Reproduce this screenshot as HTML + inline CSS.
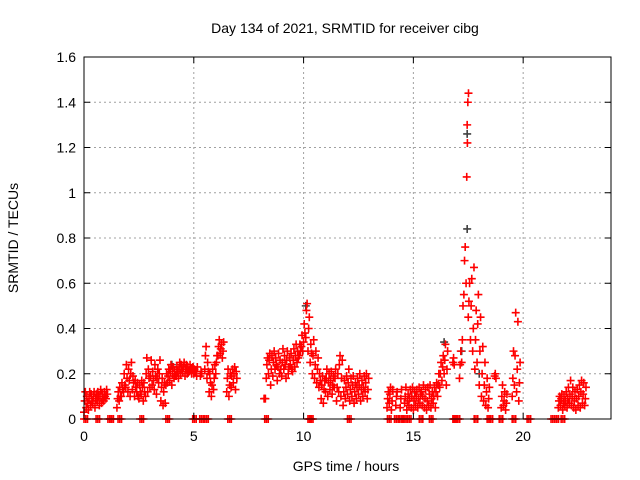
<!DOCTYPE html>
<html><head><meta charset="utf-8"><style>
html,body{margin:0;padding:0;background:#fff}
svg{display:block;font-family:"Liberation Sans",sans-serif}
</style></head><body>
<svg id="chart" width="640" height="480">
<rect width="640" height="480" fill="#fff"/>
<g id="grid"></g>
<g id="marks"></g>
<rect x="84" y="57" width="527" height="362" fill="none" stroke="#000" stroke-width="1"/>
<g id="axes"></g>
<text x="345" y="33" text-anchor="middle" font-size="14">Day 134 of 2021, SRMTID for receiver cibg</text>
<text x="346" y="471" text-anchor="middle" font-size="14">GPS time / hours</text>
<text transform="translate(18,238) rotate(-90)" text-anchor="middle" font-size="14">SRMTID / TECUs</text>
</svg>
<script>
const xTicks=[0,5,10,15,20];
const yTicks=[0,0.2,0.4,0.6,0.8,1,1.2,1.4,1.6];
const yTickLabels=["0","0.2","0.4","0.6","0.8","1","1.2","1.4","1.6"];
const times=[0.0,0.1,0.2,0.3,0.4,0.5,0.6,0.7,0.8,0.9,1.0,1.5,1.6,1.7,1.8,1.9,2.0,2.1,2.2,2.3,2.4,2.5,2.6,2.7,2.8,2.9,3.0,3.1,3.2,3.3,3.4,3.5,3.6,3.7,3.8,3.9,4.0,4.1,4.2,4.3,4.4,4.5,4.6,4.7,4.8,4.9,5.0,5.1,5.3,5.5,5.6,5.7,5.8,5.9,6.0,6.1,6.2,6.3,6.5,6.6,6.7,6.8,6.9,8.2,8.3,8.4,8.5,8.6,8.7,8.8,8.9,9.0,9.1,9.2,9.3,9.4,9.5,9.6,9.7,9.8,9.9,10.0,10.1,10.2,10.3,10.4,10.5,10.6,10.7,10.8,10.9,11.0,11.1,11.2,11.3,11.4,11.5,11.6,11.7,11.8,11.9,12.0,12.1,12.2,12.3,12.4,12.5,12.6,12.7,12.8,12.9,13.8,13.9,14.0,14.2,14.4,14.6,14.7,14.8,14.9,15.0,15.1,15.2,15.3,15.4,15.5,15.6,15.7,15.8,15.9,16.0,16.1,16.2,16.3,16.4,16.5,16.8,17.1,17.2,17.3,17.4,17.45,17.5,17.6,17.7,17.8,17.9,18.0,18.1,18.2,18.3,18.4,18.7,19.0,19.1,19.2,19.5,19.6,19.7,19.8,21.6,21.7,21.8,21.9,22.0,22.1,22.2,22.3,22.4,22.5,22.6,22.7,22.8];
const valuesLow=[.03,.05,.04,.06,.07,.05,.08,.06,.07,.08,.09,.05,.08,.10,.12,.14,.12,.10,.13,.10,.12,.09,.11,.08,.10,.12,.14,.15,.13,.11,.16,.08,.06,.07,.16,.17,.15,.18,.19,.18,.20,.21,.19,.20,.21,.20,.20,.21,.19,.22,.18,.12,.10,.13,.20,.28,.29,.27,.12,.10,.14,.16,.13,.09,.18,.20,.15,.19,.22,.17,.20,.19,.22,.18,.20,.24,.21,.23,.25,.28,.32,.34,.36,.30,.25,.20,.18,.16,.14,.09,.07,.12,.10,.13,.11,.14,.08,.12,.10,.06,.09,.11,.08,.10,.07,.09,.11,.08,.10,.12,.09,.05,.07,.04,.06,.05,.07,.04,.06,.05,.04,.06,.05,.07,.06,.05,.04,.06,.05,.07,.05,.10,.14,.17,.20,.15,.25,.18,.25,.55,.60,1.30,.45,.35,.30,.22,.25,.15,.10,.08,.06,.05,.19,.05,.06,.04,.10,.15,.12,.08,.05,.06,.04,.06,.05,.07,.06,.05,.04,.06,.05,.07,.06];
const valuesMid=[.08,.10,.09,.11,.10,.09,.12,.10,.11,.12,.13,.09,.14,.16,.20,.24,.22,.20,.19,.17,.16,.15,.17,.16,.20,.22,.19,.21,.24,.18,.20,.14,.12,.15,.19,.21,.20,.21,.23,.22,.24,.23,.22,.23,.24,.22,.22,.19,.21,.28,.25,.20,.15,.18,.25,.32,.31,.30,.18,.15,.19,.20,.21,.09,.24,.26,.22,.25,.27,.23,.26,.25,.28,.26,.23,.29,.26,.28,.30,.33,.37,.42,.48,.40,.33,.28,.24,.22,.20,.15,.13,.18,.16,.17,.15,.18,.14,.24,.18,.12,.14,.16,.13,.15,.12,.14,.15,.13,.14,.16,.13,.09,.11,.08,.10,.09,.10,.08,.09,.10,.08,.10,.09,.11,.10,.09,.08,.11,.09,.10,.12,.15,.20,.23,.26,.22,.27,.24,.35,.70,1.07,1.40,.52,.50,.40,.35,.42,.30,.20,.15,.12,.09,.20,.10,.08,.07,.18,.28,.22,.16,.08,.09,.07,.08,.09,.11,.10,.08,.09,.10,.12,.11,.09];
const valuesHigh=[.12,.07,.12,.08,.12,.11,.10,.13,.09,.10,.11,.12,.10,.13,.15,.18,.17,.25,.16,.14,.10,.12,.14,.12,.27,.18,.26,.17,.19,.22,.26,.18,.16,.20,.22,.24,.23,.19,.21,.25,.22,.25,.24,.21,.22,.23,.21,.23,.20,.32,.21,.16,.22,.24,.28,.35,.33,.34,.22,.20,.22,.23,.18,.09,.27,.29,.28,.30,.24,.29,.22,.31,.24,.30,.27,.22,.31,.33,.27,.30,.30,.38,.51,.45,.29,.35,.30,.27,.17,.19,.17,.22,.20,.21,.19,.22,.20,.28,.26,.17,.19,.22,.18,.19,.16,.18,.20,.17,.19,.20,.18,.12,.14,.13,.12,.13,.14,.11,.13,.14,.12,.13,.14,.12,.15,.13,.14,.15,.12,.14,.16,.20,.25,.28,.33,.30,.24,.30,.50,.76,1.22,1.44,.60,.62,.67,.48,.55,.45,.32,.25,.18,.14,.18,.15,.12,.11,.30,.47,.43,.25,.10,.11,.10,.12,.14,.17,.14,.12,.13,.15,.17,.16,.14];
const grayTimes=[17.45,17.45,17.2,16.4,4.0,10.1,18.0];
const grayValues=[1.26,.84,.30,.34,.24,.50,.20];
const zeroTimes=[0.0,0.55,1.09,1.18,1.55,2.55,3.73,4.95,5.27,5.5,6.55,8.23,10.2,10.27,12.0,13.82,14.14,14.36,14.5,14.73,15.27,15.73,16.8,16.86,16.95,17.77,18.36,18.45,18.91,19.5,20.18,21.27,21.45,21.73];

const X0=84,X1=611,Y0=419,Y1=57,XMAX=24,YMAX=1.6;
const xs=t=>X0+(X1-X0)*t/XMAX;
const ys=v=>Y0-(Y0-Y1)*v/YMAX;
const NS="http://www.w3.org/2000/svg";
function mk(tag,attrs,parent){const e=document.createElementNS(NS,tag);for(const k in attrs)e.setAttribute(k,attrs[k]);parent.appendChild(e);return e;}
const grid=document.getElementById('grid'),axes=document.getElementById('axes'),marks=document.getElementById('marks');
xTicks.forEach(t=>{const x=xs(t);
 if(t>0){const g=mk('line',{x1:x,x2:x,y1:Y0,y2:Y1,stroke:'#a0a0a0','stroke-dasharray':'2,3'},grid);}
 const tk=mk('path',{d:`M${x},${Y0}v-6M${x},${Y1}v6`,stroke:'#000'},axes);
 const l=mk('text',{x:x,y:Y0+22,'text-anchor':'middle','font-size':14},axes);l.textContent=t;});
yTicks.forEach((v,i)=>{const y=ys(v);
 if(v>0&&v<YMAX){const g=mk('line',{x1:X0,x2:X1,y1:y,y2:y,stroke:'#a0a0a0','stroke-dasharray':'2,3'},grid);}
 const tk=mk('path',{d:`M${X0},${y}h6M${X1},${y}h-6`,stroke:'#000'},axes);
 const l=mk('text',{x:X0-8,y:y+5,'text-anchor':'end','font-size':14},axes);l.textContent=yTickLabels[i];});
function plus(t,v,color,name){const x=xs(t),y=ys(v);
 const p=mk('path',{d:`M${x-4},${y}h8M${x},${y-4}v8`,stroke:color,'stroke-width':1.6},marks);
 
 }
grayTimes.forEach((t,i)=>plus(t,grayValues[i],'#404040','gray-point'));
times.forEach((t,i)=>{plus(t,valuesLow[i],'#ff0000','srmtid-point');plus(t+0.03,valuesMid[i],'#ff0000','srmtid-point');plus(t+0.06,valuesHigh[i],'#ff0000','srmtid-point');});
zeroTimes.forEach(t=>{plus(t,0,'#ff0000','zero-point');plus(t+0.08,0,'#ff0000','zero-point');plus(t+0.16,0,'#ff0000','zero-point');});
</script>
</body></html>
